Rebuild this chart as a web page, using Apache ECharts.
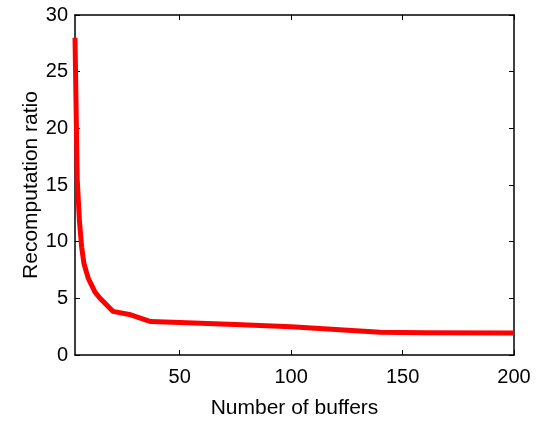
<!DOCTYPE html>
<html>
<head>
<meta charset="utf-8">
<script src="https://cdn.jsdelivr.net/npm/echarts@6/dist/echarts.min.js"></script>
<style>
  html, body { margin: 0; padding: 0; background: #fff; }
  #chart { width: 539px; height: 424px; }
</style>
</head>
<body>
<div id="chart"></div>
<script>
// values
const buffers = [3, 4, 5, 6, 7, 8, 9, 10, 12, 14, 16, 20, 28, 37, 50, 75, 100, 120, 140, 160, 200]
const ratio = [28, 15.5, 11.8, 9.5, 8.1, 7.4, 6.75, 6.35, 5.55, 5.05, 4.65, 3.85, 3.55, 2.95, 2.87, 2.7, 2.5, 2.25, 2.0, 1.97, 1.95]
const xTicks = [50, 100, 150, 200]
const yTicks = [0, 5, 10, 15, 20, 25, 30]

const chart = echarts.init(document.getElementById('chart'))

const font = 'Liberation Sans, Arial, Helvetica, sans-serif'
const axisLine = { show: true, onZero: false, lineStyle: { color: '#000', width: 1.5 } }
const tick = { show: true, inside: true, length: 5, lineStyle: { color: '#000', width: 1 } }

const xBase = {
  type: 'value',
  min: 3,
  max: 200,
  splitLine: { show: false },
  axisLine,
}
const yBase = {
  type: 'value',
  min: 0,
  max: 30,
  interval: 5,
  splitLine: { show: false },
  axisLine,
}

chart.setOption({
  animation: false,
  backgroundColor: '#fff',
  grid: { left: 75, right: 25, top: 15, bottom: 67 },
  xAxis: [
    {
      ...xBase,
      position: 'bottom',
      name: 'Number of buffers',
      nameLocation: 'middle',
      nameGap: 43,
      nameMoveOverlap: false,
      nameTextStyle: { color: '#000', fontSize: 21, fontFamily: font },
      axisTick: { ...tick, customValues: xTicks },
      axisLabel: { customValues: xTicks, color: '#000', fontSize: 20, fontFamily: font, margin: 12 },
    },
    {
      ...xBase,
      position: 'top',
      axisTick: { ...tick, customValues: xTicks },
      axisLabel: { show: false },
    },
  ],
  yAxis: [
    {
      ...yBase,
      position: 'left',
      name: 'Recomputation ratio',
      nameLocation: 'middle',
      nameGap: 33,
      nameMoveOverlap: false,
      nameTextStyle: { color: '#000', fontSize: 21, fontFamily: font },
      axisTick: { ...tick, customValues: yTicks },
      axisLabel: { customValues: yTicks, color: '#000', fontSize: 20, fontFamily: font, margin: 7 },
    },
    {
      ...yBase,
      position: 'right',
      axisTick: { ...tick, customValues: yTicks },
      axisLabel: { show: false },
    },
  ],
  series: [
    {
      type: 'line',
      xAxisIndex: 0,
      yAxisIndex: 0,
      data: buffers.map((b, i) => [b, ratio[i]]),
      symbol: 'none',
      smooth: false,
      clip: true,
      lineStyle: { color: '#ff0000', width: 5, cap: 'butt', join: 'round' },
    },
  ],
})
</script>
</body>
</html>
